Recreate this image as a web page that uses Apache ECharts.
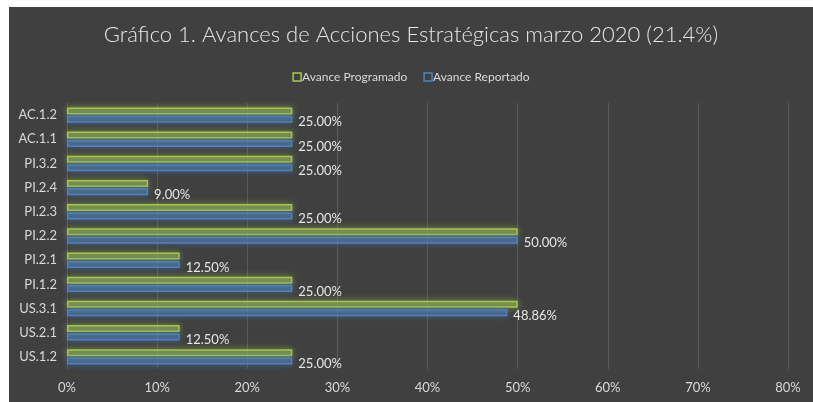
<!DOCTYPE html>
<html>
<head>
<meta charset="utf-8">
<script src="https://cdn.jsdelivr.net/npm/echarts@6/dist/echarts.min.js"></script>
<style>
  html, body { margin: 0; padding: 0; background: #ffffff; }
  #chart { position: absolute; left: 9px; top: 7px; width: 804px; height: 395px; background: #404040; }
</style>
</head>
<body>
<div id="chart"></div>
<script>
// categories from bottom to top
var categories = ['US.1.2', 'US.2.1', 'US.3.1', 'PI.1.2', 'PI.2.1', 'PI.2.2', 'PI.2.3', 'PI.2.4', 'PI.3.2', 'AC.1.1', 'AC.1.2'];
var programado = [25, 12.5, 50, 25, 12.5, 50, 25, 9, 25, 25, 25];
var reportado = [25, 12.5, 48.86, 25, 12.5, 50, 25, 9, 25, 25, 25];

var chart = echarts.init(document.getElementById('chart'));

var labelFont = 'Lato, "Open Sans", sans-serif';

var option = {
    backgroundColor: '#404040',
    animation: false,
    title: {
        text: 'Gráfico 1. Avances de Acciones Estratégicas marzo 2020 (21.4%)',
        left: 'center',
        top: 12,
        textStyle: {
            color: '#e6e6e6',
            fontSize: 22,
            fontWeight: 300,
            fontFamily: labelFont
        }
    },
    legend: {
        data: [
            { name: 'Avance Programado', itemStyle: { color: 'transparent', borderColor: '#a6c850', borderWidth: 1.5, shadowBlur: 0 } },
            { name: 'Avance Reportado', itemStyle: { color: 'transparent', borderColor: '#4f81bd', borderWidth: 1.5, shadowBlur: 0 } }
        ],
        top: 59,
        left: 'center',
        icon: 'rect',
        itemWidth: 8,
        itemHeight: 8,
        itemGap: 16,
        textStyle: { color: '#d9d9d9', fontSize: 12, fontFamily: labelFont, padding: [0, 0, 0, -4] }
    },
    grid: { left: 58, right: 25, top: 96, bottom: 33 },
    xAxis: {
        type: 'value',
        min: 0,
        max: 80,
        interval: 10,
        axisLine: { show: false },
        axisTick: { show: false },
        axisLabel: {
            color: '#d9d9d9',
            fontSize: 13,
            fontFamily: labelFont,
            margin: 12,
            formatter: '{value}%'
        },
        splitLine: { lineStyle: { color: '#5a5a5a', width: 1 } }
    },
    yAxis: {
        type: 'category',
        data: categories,
        axisLine: { show: false },
        axisTick: { show: false },
        axisLabel: { color: '#d9d9d9', fontSize: 13, fontFamily: labelFont, margin: 10 }
    },
    series: [
        {
            name: 'Avance Programado',
            type: 'bar',
            data: programado,
            barWidth: 7,
            barGap: '20%',
            itemStyle: {
                color: 'rgba(155,187,89,0.4)',
                borderColor: '#a6c850',
                borderWidth: 1.5,
                shadowColor: 'rgba(166,200,80,0.8)',
                shadowBlur: 6
            }
        },
        {
            name: 'Avance Reportado',
            type: 'bar',
            data: reportado,
            barWidth: 7,
            barGap: '20%',
            itemStyle: {
                color: 'rgba(79,129,189,0.4)',
                borderColor: '#4f81bd',
                borderWidth: 1.5,
                shadowColor: 'rgba(79,129,189,0.8)',
                shadowBlur: 6
            },
            label: {
                show: true,
                position: 'right',
                offset: [0, 3],
                distance: 6,
                color: '#e6e6e6',
                fontSize: 13,
                fontFamily: labelFont,
                formatter: function (p) { return p.value.toFixed(2) + '%'; }
            }
        }
    ]
};

chart.setOption(option);
</script>
</body>
</html>
